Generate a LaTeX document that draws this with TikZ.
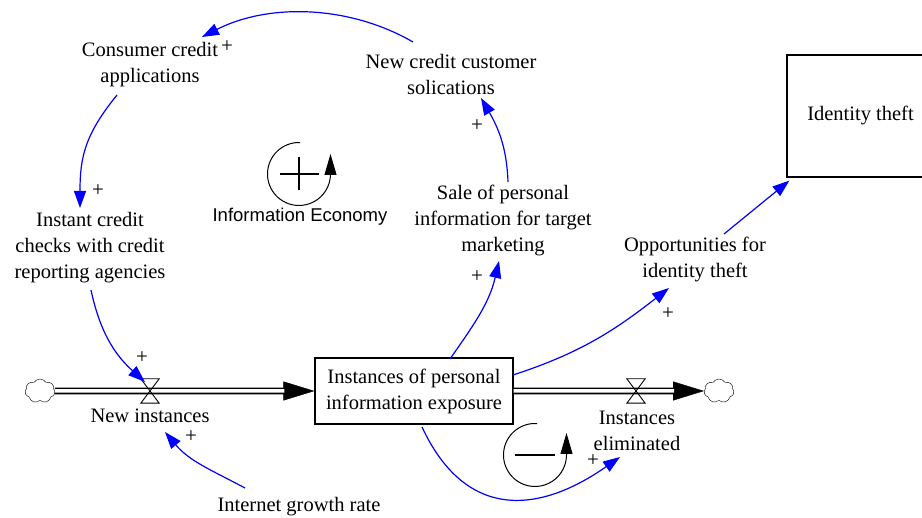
\documentclass[tikz,border=0pt]{standalone}
\usepackage{fontspec}
\setmainfont{Liberation Serif}
\newfontfamily\loopfont{Liberation Sans}
\usepackage{tikz}
\usetikzlibrary{arrows.meta}
\usetikzlibrary{shapes.symbols}

\definecolor{linkblue}{RGB}{0,0,255}

\begin{document}
\begin{tikzpicture}[x=1pt,y=1pt,
    var/.style={align=center,inner sep=2pt,font=\fontsize{20.5pt}{26pt}\selectfont},
    sign/.style={inner sep=0pt,font=\fontsize{21pt}{21pt}\selectfont},
    pipe/.style={draw=black,line width=1.6pt,double=white,double distance=3.5pt},
    pipetip/.style={line width=0.4pt,-{Triangle[length=31pt,width=19pt]}},
    valvept/.style={inner sep=0pt,minimum width=18pt,minimum height=24pt},
    valveline/.style={draw=black,line width=0.9pt},
    sourcecloud/.style={cloud,draw,thin,cloud puffs=7,cloud puff arc=120,aspect=1.2,
      inner sep=0pt,minimum width=30pt,minimum height=24pt},
    loopline/.style={line width=1pt,-{Triangle[length=21pt,width=12pt]}},
    loopsign/.style={line width=2.6pt}]

  \useasboundingbox (0,0) rectangle (922,518);

  % variables
  \begin{scope}[every node/.style={var}]
    \node (cons) at (150,453) {Consumer credit\\applications};
    \node (newcust) at (451,444) {New credit customer\\solications};
    \node (sale) at (503,297) {Sale of personal\\information for target\\marketing};
    \node (instant) at (90,270) {Instant credit\\checks with credit\\reporting agencies};
    \node (opp) at (695,258) {Opportunities for\\identity theft};
    \node (internet) at (299,11) {Internet growth rate};
    \node (newlbl) at (150,102) {New instances};
    \node (elim) at (637,87) {Instances\\eliminated};
  \end{scope}

  % stocks
  \node[draw,line width=1.2pt,minimum width=198pt,minimum height=66pt,var] (stock)
    at (414,127) {Instances of personal\\information exposure};
  \node[draw,line width=1.2pt,minimum width=147pt,minimum height=122pt,var] (idtheft)
    at (860.5,402) {Identity theft};

  % flows
  \node[sourcecloud] (cloudL) at (40,127) {};
  \node[sourcecloud] (cloudR) at (719,127) {};
  \node[valvept] (inflow) at (150,127) {};
  \node[valvept] (outflow) at (636,127) {};

  \draw[pipetip] (cloudL) -- (stock.west);
  \draw[pipe] (cloudL) -- ([xshift=-30pt]stock.west);
  \draw[pipetip] (stock.east) -- (cloudR);
  \draw[pipe] (stock.east) -- ([xshift=-30pt]cloudR.west);

  \draw[valveline] (inflow.north west) -- (inflow.north east)
    -- (inflow.south west) -- (inflow.south east) -- cycle;
  \draw[valveline] (outflow.north west) -- (outflow.north east)
    -- (outflow.south west) -- (outflow.south east) -- cycle;

  % causal links
  \begin{scope}[>={Triangle[length=17pt,width=12pt]},
      every edge/.style={draw=linkblue,line width=1.2pt}]
    \path [->] ([shift={(-38,32)}]newcust.center) edge[out=150,in=27,looseness=0.9] ([shift={(52,28)}]cons.center);
    \path [->] ([shift={(-33,-30)}]cons.center) edge[out=231,in=90,looseness=1.1] ([shift={(-10,40)}]instant.center);
    \path [->] ([shift={(1,-42)}]instant.center) edge[out=282,in=138] ([shift={(-5,9)}]inflow.center);
    \path [->] ([shift={(-54,19)}]internet.center) edge[out=152,in=-50] ([shift={(15,-16)}]newlbl.center);
    \path [->] ([shift={(36,32)}]stock.center) edge[out=55,in=257] ([shift={(-4,-40)}]sale.center);
    \path [->] ([shift={(5,39)}]sale.center) edge[out=92,in=300] ([shift={(30,-24)}]newcust.center);
    \path [->] ([shift={(99,16)}]stock.center) edge[out=18,in=-142] ([shift={(-26,-28)}]opp.center);
    \path [->] ([shift={(29,26)}]opp.center) edge ([shift={(3,-3)}]idtheft.south west);
    \path [->] ([shift={(8,-36)}]stock.center) edge[out=-65,in=215,looseness=1.3] ([shift={(-17,-26)}]elim.center);
  \end{scope}

  % polarities
  \begin{scope}[every node/.style={sign}]
    \node (p1) at (227,471) {+};
    \node (p2) at (98,327) {+};
    \node (p3) at (142,160) {+};
    \node (p4) at (191,81) {+};
    \node (p5) at (477,392) {+};
    \node (p6) at (477,241) {+};
    \node (p7) at (668,204) {+};
    \node (p8) at (593,57) {+};
  \end{scope}

  % loop markers
  \coordinate (posloop) at (299,344);
  \coordinate (negloop) at (535,63);
  \draw[loopline] ([shift={(88:31.5)}]posloop) arc[start angle=88,end angle=360,radius=31.5] -- ++(0,20);
  \draw[loopsign] ([xshift=-19.5pt]posloop) -- ([xshift=19.5pt]posloop);
  \draw[loopsign] ([yshift=-16.5pt]posloop) -- ([yshift=16.5pt]posloop);
  \node[font=\loopfont\fontsize{18.5pt}{20pt}\selectfont,inner sep=0pt] (infolbl) at (300,301) {Information Economy};

  \draw[loopline] ([shift={(86:31.5)}]negloop) arc[start angle=86,end angle=360,radius=31.5] -- ++(0,22);
  \draw[loopsign] ([xshift=-20pt]negloop) -- ([xshift=20pt]negloop);

\end{tikzpicture}
\end{document}
